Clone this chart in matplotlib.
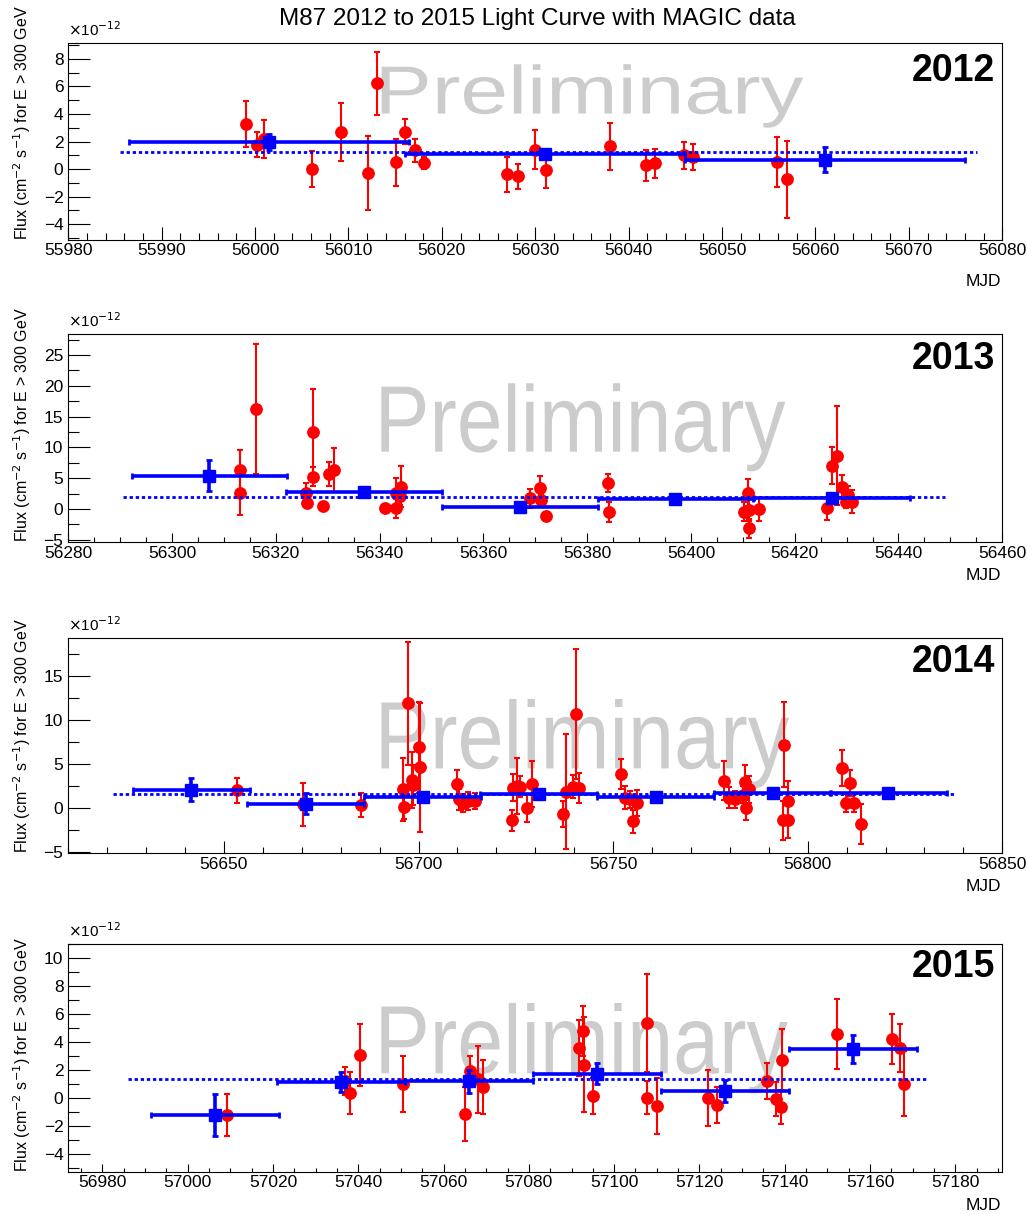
import matplotlib
matplotlib.use("Agg")
import matplotlib.pyplot as plt
import matplotlib.patheffects as pe
from matplotlib.transforms import Affine2D
from matplotlib.ticker import MultipleLocator

plt.rcParams['font.family'] = ['Liberation Sans', 'DejaVu Sans']

# Fluxes in units of 1e-12 cm^-2 s^-1 for E > 300 GeV

# 2012: nightly points
mjd_2012 = [55999.0, 56000.2, 56001.0, 56006.1, 56009.2, 56012.1, 56013.0, 56015.1,
            56016.0, 56017.1, 56018.1, 56027.0, 56028.1, 56030.0, 56031.1, 56038.0,
            56041.9, 56042.8, 56045.9, 56046.9, 56055.9, 56056.9]
flux_2012 = [3.28, 1.76, 2.19, 0.0, 2.67, -0.29, 6.22, 0.48,
             2.72, 1.35, 0.43, -0.39, -0.53, 1.42, -0.1, 1.64,
             0.27, 0.43, 0.99, 0.87, 0.51, -0.75]
err_2012 = [1.65, 0.9, 1.4, 1.3, 2.1, 2.7, 2.3, 1.7,
            0.9, 0.8, 0.45, 1.25, 0.9, 1.4, 1.25, 1.7,
            1.1, 1.05, 1.0, 0.95, 1.8, 2.8]
# 2012: 30-day bins
bin_mjd_2012 = [56001.5, 56031.0, 56061.0]
bin_flux_2012 = [1.95, 1.06, 0.67]
bin_err_2012 = [0.6, 0.3, 0.9]
fit_2012 = 1.23
fit_span_2012 = [55985.5, 56077.3]

# 2013
mjd_2013 = [56313.0, 56313.1, 56316.1, 56325.9, 56326.0, 56327.1, 56327.2, 56329.0,
            56330.2, 56331.2, 56341.0, 56343.1, 56343.2, 56343.9, 56344.1,
            56368.9, 56371.0, 56371.1, 56372.0, 56384.1, 56384.2,
            56410.2, 56411.0, 56411.1, 56411.2, 56413.1,
            56426.2, 56427.1, 56428.1, 56429.2, 56429.9, 56430.2, 56431.0]
flux_2013 = [6.25, 2.55, 16.25, 2.66, 1.03, 5.27, 12.45, 0.49,
             5.7, 6.36, 0.1, 0.1, 2.66, 2.1, 3.64,
             1.74, 3.37, 1.47, -1.14, 4.18, -0.43,
             -0.43, 2.66, -0.16, -3.15, -0.05,
             0.1, 7.0, 8.64, 3.64, 1.2, 2.28, 1.2]
err_2013 = [3.3, 3.6, 10.6, 1.5, 0.8, 1.5, 7.1, 0.3,
            1.9, 3.6, 0.3, 1.5, 2.3, 1.5, 3.3,
            1.5, 2.0, 1.0, 0.6, 1.5, 1.6,
            1.5, 2.2, 1.8, 1.5, 1.9,
            1.9, 3.0, 8.0, 1.8, 1.0, 1.5, 1.9]
bin_mjd_2013 = [56307.2, 56337.0, 56367.0, 56397.0, 56427.2]
bin_flux_2013 = [5.43, 2.83, 0.38, 1.58, 1.85]
bin_err_2013 = [2.5, 0.5, 0.3, 0.3, 0.5]
fit_2013 = 2.0
fit_span_2013 = [56290.6, 56449.0]

# 2014
mjd_2014 = [56653.4, 56670.3, 56685.3, 56696.0, 56696.2, 56697.3, 56698.3, 56698.5,
            56700.0, 56700.3, 56709.8, 56710.3, 56711.5, 56712.8, 56714.5,
            56723.9, 56724.4, 56725.2, 56726.1, 56728.0, 56729.1,
            56737.0, 56738.0, 56739.7, 56740.4, 56741.3,
            56752.1, 56753.0, 56754.3, 56755.1, 56756.2,
            56778.6, 56779.7, 56781.2, 56783.3, 56784.0, 56784.1, 56785.0,
            56793.6, 56793.8, 56794.9, 56795.0,
            56808.8, 56809.8, 56810.9, 56812.0, 56813.7]
flux_2014 = [2.0, 0.38, 0.31, 2.1, 0.08, 11.9, 3.15, 2.6,
             6.9, 4.6, 2.7, 0.96, 0.58, 0.77, 0.77,
             -1.42, 2.3, 2.5, 2.4, 0.0, 2.7,
             -0.69, 1.85, 2.4, 10.7, 2.3,
             3.85, 1.15, 0.96, -1.54, 0.58,
             3.08, 1.15, 0.96, 1.5, 2.9, 0.0, 2.1,
             -1.42, 7.2, -1.42, 0.77,
             4.54, 0.58, 2.8, 0.58, -1.85]
err_2014 = [1.4, 2.4, 1.4, 3.6, 1.4, 7.0, 3.2, 2.3,
            5.2, 7.3, 1.6, 1.2, 1.0, 1.0, 0.9,
            1.2, 1.5, 3.2, 1.2, 1.6, 2.6,
            1.5, 6.5, 1.3, 7.4, 1.7,
            1.7, 1.3, 1.0, 1.3, 1.5,
            2.2, 1.2, 1.0, 1.0, 2.0, 1.4, 1.5,
            2.2, 4.8, 2.0, 2.3,
            2.1, 1.0, 1.5, 1.0, 2.3]
bin_mjd_2014 = [56641.6, 56671.0, 56701.1, 56730.9, 56760.9, 56791.0, 56820.7]
bin_flux_2014 = [2.04, 0.46, 1.27, 1.62, 1.23, 1.65, 1.65]
bin_err_2014 = [1.3, 1.2, 0.5, 0.3, 0.3, 0.3, 0.3]
fit_2014 = 1.54
fit_span_2014 = [56621.6, 56837.9]

# 2015
mjd_2015 = [57009.3, 57036.9, 57038.0, 57040.4, 57050.4, 57065.0, 57066.3, 57068.1,
            57069.3, 57091.8, 57092.8, 57092.9, 57095.1, 57107.7, 57107.8, 57110.0,
            57122.0, 57124.1, 57135.8, 57138.0, 57139.2, 57139.3,
            57152.2, 57165.1, 57167.1, 57168.0]
flux_2015 = [-1.2, 1.22, 0.4, 3.1, 1.04, -1.13, 1.93, 1.34,
             0.8, 3.58, 4.8, 2.4, 0.16, 5.34, 0.05, -0.54,
             0.0, -0.47, 1.22, -0.07, -0.61, 2.75,
             4.59, 4.24, 3.58, 1.04]
err_2015 = [1.5, 1.0, 1.5, 2.2, 2.0, 1.9, 1.1, 2.4,
            1.9, 2.0, 1.8, 3.4, 1.25, 3.5, 1.2, 2.0,
            2.0, 1.3, 1.3, 1.2, 1.2, 2.2,
            2.5, 1.8, 1.7, 2.3]
bin_mjd_2015 = [57006.4, 57036.0, 57066.0, 57096.0, 57126.0, 57156.0]
bin_flux_2015 = [-1.18, 1.15, 1.2, 1.74, 0.52, 3.53]
bin_err_2015 = [1.5, 0.7, 0.8, 0.75, 0.8, 1.0]
fit_2015 = 1.34
fit_span_2015 = [56986.1, 57173.7]

bin_half_width = 15.0  # days

years = ['2012', '2013', '2014', '2015']
nightly = [(mjd_2012, flux_2012, err_2012), (mjd_2013, flux_2013, err_2013),
           (mjd_2014, flux_2014, err_2014), (mjd_2015, flux_2015, err_2015)]
binned = [(bin_mjd_2012, bin_flux_2012, bin_err_2012), (bin_mjd_2013, bin_flux_2013, bin_err_2013),
          (bin_mjd_2014, bin_flux_2014, bin_err_2014), (bin_mjd_2015, bin_flux_2015, bin_err_2015)]
fits = [(fit_2012, fit_span_2012), (fit_2013, fit_span_2013),
        (fit_2014, fit_span_2014), (fit_2015, fit_span_2015)]

# axis setup per panel
xlims = [(55980, 56080), (56280, 56460), (56610, 56850), (56972, 57191)]
ylims = [(-5.15, 9.13), (-5.4, 28.4), (-5.18, 19.3), (-5.24, 11.0)]
x_major = [10, 20, 50, 20]
x_minor = [2, 5, 10, 5]
y_major = [2, 5, 5, 2]
y_minor = [1, 2.5, 2.5, 1]
x_ticklen = [9.5, 6.5, 9.0, 6.0]
rects = [(0.0665, 0.8023, 0.9094, 0.1620),
         (0.0665, 0.5533, 0.9094, 0.1716),
         (0.0665, 0.2971, 0.9094, 0.1771),
         (0.0665, 0.0348, 0.9094, 0.1876)]
year_y = [0.858, 0.88, 0.892, 0.897]
mjd_drop = [30, 24, 24, 24]
wm_y = [0.643, 0.435, 0.395, 0.432]
wm_size = [49, 68, 69, 70]
wm_stretch = [1.26, 0.87, 0.865, 0.85]


class Stretch(pe.AbstractPathEffect):
    """Rescale glyph outlines about the text origin."""

    def __init__(self, sx=1.0, sy=1.0):
        super().__init__()
        self._sx, self._sy = sx, sy

    def draw_path(self, renderer, gc, tpath, affine, rgbFace=None):
        renderer.draw_path(gc, tpath, Affine2D().scale(self._sx, self._sy) + affine, rgbFace)


fig = plt.figure(figsize=(10.27, 12.14), dpi=100)
fig.text(0.5234, 0.9845, 'M87 2012 to 2015 Light Curve with MAGIC data',
         ha='center', va='center', fontsize=17.5)

for i, year in enumerate(years):
    ax = fig.add_axes(rects[i])
    mjd, flux, err = nightly[i]
    bmjd, bflux, berr = binned[i]
    level, span = fits[i]

    ax.errorbar(mjd, flux, yerr=err, fmt='o', color='red', ms=8.2, lw=1.5,
                capsize=2, capthick=1.5, zorder=3)
    ax.errorbar(bmjd, bflux, xerr=bin_half_width, yerr=berr, fmt='s', color='blue',
                ms=8.2, lw=2.6, capsize=2, capthick=2, zorder=4)
    ax.plot(span, [level, level], color='blue', lw=2.0, dashes=(1.2, 1.0), zorder=5)

    ax.set_xlim(*xlims[i])
    ax.set_ylim(*ylims[i])
    ax.xaxis.set_major_locator(MultipleLocator(x_major[i]))
    ax.xaxis.set_minor_locator(MultipleLocator(x_minor[i]))
    ax.yaxis.set_major_locator(MultipleLocator(y_major[i]))
    ax.yaxis.set_minor_locator(MultipleLocator(y_minor[i]))
    ax.tick_params(axis='both', which='both', direction='in', top=False, right=False,
                   width=0.8, labelsize=12.5)
    ax.tick_params(axis='y', which='major', length=15.8, pad=3.5)
    ax.tick_params(axis='y', which='minor', length=7.9)
    ax.tick_params(axis='x', which='major', length=x_ticklen[i], pad=2.5)
    ax.tick_params(axis='x', which='minor', length=x_ticklen[i] / 2)
    for s in ax.spines.values():
        s.set_linewidth(0.8)

    # watermark
    ax.text(0.328, wm_y[i], 'Preliminary', transform=ax.transAxes, ha='left',
            va='baseline', fontsize=wm_size[i], color='#cccccc', zorder=0.5,
            path_effects=[Stretch(wm_stretch[i])])

    ax.text(0.992, year_y[i], year, transform=ax.transAxes, ha='right', va='center',
            fontsize=27, fontweight='bold')
    ax.annotate(r'$\times$10$^{-12}$', (0, 1), xycoords='axes fraction',
                xytext=(0, 3), textcoords='offset points', ha='left', va='bottom',
                fontsize=11)
    ax.annotate('MJD', (1, 0), xycoords='axes fraction', xytext=(-1, -mjd_drop[i]),
                textcoords='offset points', ha='right', va='center', fontsize=12.5)
    ax.annotate(r'Flux (cm$^{-2}$ s$^{-1}$) for E > 300 GeV', (0, 0),
                xycoords='axes fraction', xytext=(-33, 0), textcoords='offset points',
                rotation=90, ha='center', va='bottom', fontsize=11.5)

fig.savefig('out.png', dpi=100)
